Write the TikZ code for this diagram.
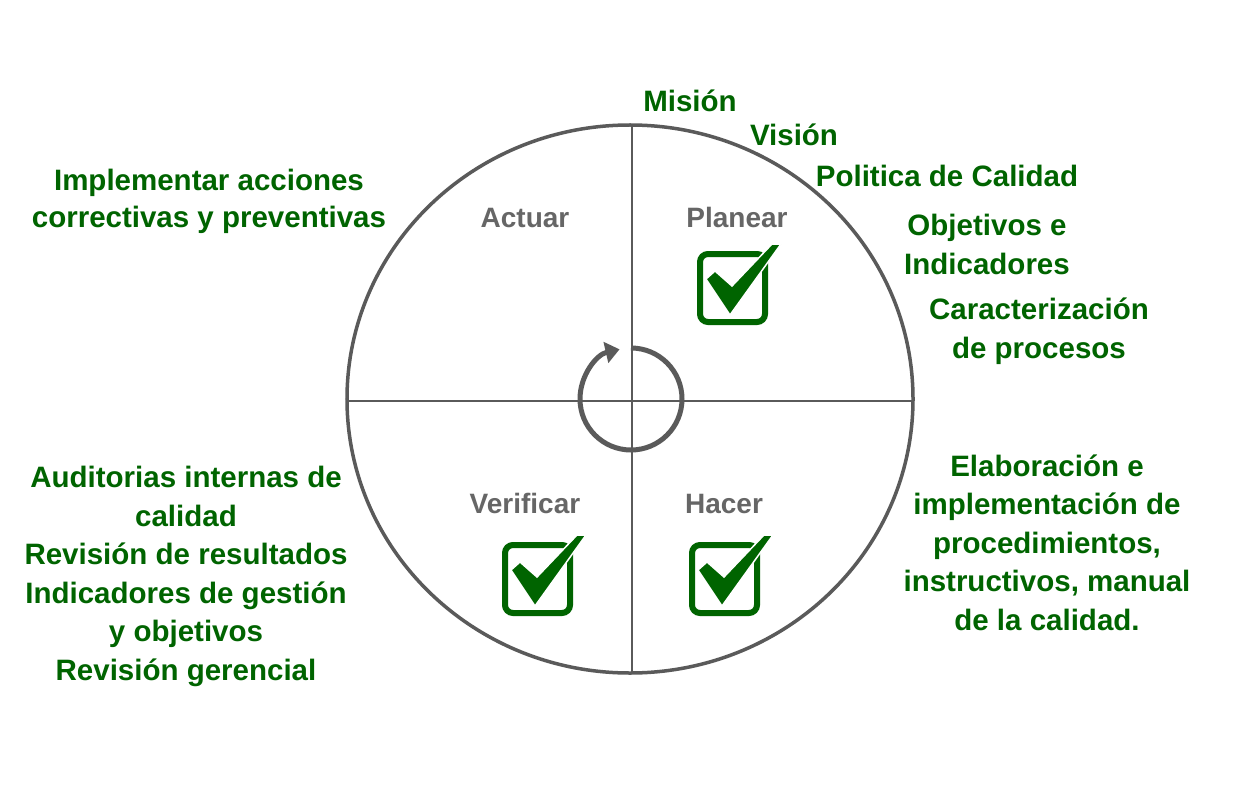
\documentclass[tikz,border=0pt]{standalone}
\usepackage{fontspec}
\setmainfont{Liberation Sans}
\usetikzlibrary{shapes.geometric,arrows.meta}
\definecolor{kgreen}{RGB}{0,100,0}
\definecolor{kgray}{RGB}{90,90,90}
\definecolor{klabel}{RGB}{102,102,102}
\tikzset{
  greentxt/.style={font=\fontsize{29.5bp}{38.5bp}\selectfont\bfseries, text=kgreen, align=center, inner sep=0pt, anchor=base},
  phasetxt/.style={font=\fontsize{28bp}{34bp}\selectfont\bfseries, text=klabel, inner sep=0pt, anchor=base},
  chkbox/.pic={
    \draw[kgreen, line width=6bp, rounded corners=8bp] (3,3) rectangle (68,71);
    \filldraw[fill=kgreen, draw=white, line width=1.5bp, line join=miter]
      (9,28) -- (18,20) -- (35,35) -- (75,-7) -- (84,-7) -- (33,64) -- cycle;
  }
}
\begin{document}
\begin{tikzpicture}[x=1bp, y=-1bp]
\useasboundingbox (0,0) rectangle (1238,800);
\fill[white] (0,0) rectangle (1238,800);
% wheel
\node[ellipse, draw=kgray, line width=3.5bp, minimum width=566bp, minimum height=548bp, inner sep=0pt, outer sep=0pt] (wheel) at (630,399) {};
\coordinate (vtop) at (632,125);
\coordinate (vbot) at (632,673);
\coordinate (hleft) at (347,401);
\coordinate (hright) at (913,401);
\draw[kgray, line width=2.5bp] (vtop) -- (vbot);
\draw[kgray, line width=2.5bp] (hleft) -- (hright);
% central cycle arrow
\coordinate (hub) at (631,399);
\draw[kgray, line width=5bp, -{Triangle[length=14bp, width=21bp]}]
  ([shift={(270:51)}]hub) arc[start angle=270, end angle=617, radius=51];
% phase labels
\node[phasetxt] (actuar) at (525,227) {Actuar};
\node[phasetxt] (planear) at (737,227) {Planear};
\node[phasetxt] (verificar) at (525,513) {Verificar};
\node[phasetxt] (hacer) at (724,513) {Hacer};
% check boxes
\pic (chkP) at (697,251) {chkbox};
\pic (chkV) at (502,542) {chkbox};
\pic (chkH) at (689,542) {chkbox};
% green texts (anchor = baseline of last line)
\node[greentxt] (mision) at (690,111.5) {Misión};
\node[greentxt] (vision) at (794,145) {Visión};
\node[greentxt] (politica) at (947,186) {Politica de Calidad};
\node[greentxt] (objetivos) at (987,274) {Objetivos e\\Indicadores};
\node[greentxt] (caract) at (1039,358) {Caracterización\\de procesos};
\node[greentxt, font=\fontsize{29.5bp}{36.5bp}\selectfont\bfseries] (implementar) at (209,227) {Implementar acciones\\correctivas y preventivas};
\node[greentxt] (auditorias) at (186,680) {Auditorias internas de\\calidad\\Revisión de resultados\\Indicadores de gestión\\y objetivos\\Revisión gerencial};
\node[greentxt] (elaboracion) at (1047,630) {Elaboración e\\implementación de\\procedimientos,\\instructivos, manual\\de la calidad.};
\end{tikzpicture}
\end{document}
